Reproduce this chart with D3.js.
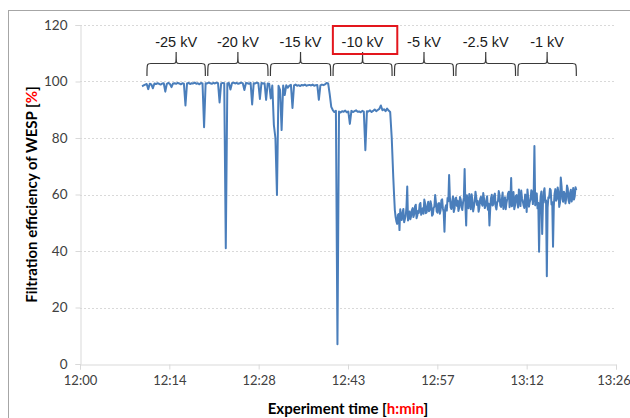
<!DOCTYPE html>
<html><head><meta charset="utf-8">
<script src="https://cdn.jsdelivr.net/npm/d3@7"></script>
<style>
html,body{margin:0;padding:0;background:#fff;}
svg{display:block;}
</style></head>
<body>
<svg id="chart" width="630" height="418"></svg>
<script>
// ---- data ----
// time axis in minutes after 12:00
const xTickValues = [0, 14.4, 28.8, 43.2, 57.6, 72, 86.4];
const xTickLabels = ["12:00", "12:14", "12:28", "12:43", "12:57", "13:12", "13:26"];
const yTickValues = [0, 20, 40, 60, 80, 100, 120];

// high-voltage phases: sampled every 0.25 min from 12:10
const highStart = 10.0;
const highStep = 0.25;
const efficiencyHigh = [
  // -25 kV
  98.3, 98.6, 98.9, 99.1, 97.3, 99.2, 99.0, 97.6, 99.3, 99.1,
  99.4, 99.2, 98.9, 99.3, 99.4, 96.4, 99.2, 99.5, 99.1, 98.0,
  99.3, 99.4, 99.2, 99.5, 99.3, 99.0, 99.4, 99.2, 91.5, 99.3,
  99.5, 99.1, 99.4, 99.3, 99.6, 99.2, 99.4, 99.0, 99.5, 99.3,
  83.8, 99.4, 99.3,
  // -20 kV
  99.6, 99.4, 99.2, 99.5, 99.3, 99.6, 99.4, 92.6, 99.3, 99.5,
  99.4, 41.0, 99.3, 99.5, 97.2, 99.4, 99.6, 99.3, 99.5, 99.2,
  99.4, 99.6, 99.3, 97.0, 99.5, 99.4, 99.2, 99.5, 91.9, 99.4,
  99.3, 99.6, 99.4, 93.8, 99.5, 99.3, 99.4, 93.5, 99.3, 99.2,
  // -15 kV
  94.0, 98.6, 84.6, 80.0, 59.8, 98.5, 97.0, 82.8, 98.6, 95.2,
  98.7, 97.8, 98.5, 98.8, 90.6, 98.6, 98.9, 98.5, 98.7, 98.4,
  98.8, 98.6, 98.9, 98.5, 98.7, 98.8, 98.6, 98.9, 98.5, 98.7,
  98.8, 93.5, 98.6, 98.9, 98.7, 99.0, 99.5, 99.3, 95.5, 91.0,
  // -10 kV
  89.9, 89.2, 89.6, 7.0, 89.4, 89.0, 89.5, 89.3, 89.7, 89.1,
  89.4, 85.0, 89.6, 89.2, 89.5, 89.8, 89.3, 89.4, 89.1, 89.6,
  89.3, 75.7, 89.5, 89.4, 89.8, 89.2, 89.6, 90.1, 89.5, 89.9,
  90.3, 91.5, 89.8, 90.2, 89.5, 90.4, 89.7, 89.2, 80.0, 66.0
];

// low-voltage phases: sampled every 0.125 min from 12:50.6
const lowStart = 50.625;
const lowStep = 0.125;
const efficiencyLow = [
  // -5 kV
  60.0, 54.5, 52.0, 50.5, 49.6, 52.8, 53.1, 47.4, 54.8, 51.5,
  51.0, 53.6, 54.9, 50.2, 51.3, 52.4, 55.6, 62.8, 50.8, 53.0,
  54.0, 51.2, 52.3, 54.5, 55.2, 52.0, 53.0, 55.8, 56.4, 51.6,
  52.6, 54.2, 53.5, 56.5, 57.0, 52.8, 54.0, 55.1, 53.2, 58.2,
  56.9, 53.4, 53.7, 56.0, 57.4, 54.1, 54.6, 57.6, 56.3, 52.5,
  52.9, 55.3, 55.7, 59.8, 57.2, 54.0, 53.6, 56.8, 57.0, 53.2,
  54.4, 57.9, 58.3, 55.0, 53.8, 46.8, 55.1, 56.2, 54.3, 58.8,
  57.6, 66.9, 59.0, 55.4,
  // -2.5 kV
  54.9, 57.5, 59.3, 53.8, 55.0, 58.6, 58.9, 56.0, 57.8, 54.2,
  55.3, 59.1, 58.2, 55.6, 54.5, 57.3, 58.8, 69.0, 56.2, 49.0,
  59.7, 56.4, 55.1, 60.2, 57.9, 54.8, 60.1, 58.0, 54.0, 55.7,
  57.5, 61.0, 59.0, 56.3, 57.7, 53.9, 55.4, 58.4, 59.2, 56.8,
  56.0, 60.5, 58.6, 55.2, 55.9, 57.9, 59.4, 54.6, 56.7, 49.0,
  55.0, 58.7, 59.9, 56.1, 56.4, 59.6, 60.3, 55.8, 54.7, 57.2,
  57.6, 61.2, 59.8, 56.0, 55.6, 58.3, 60.7, 54.9, 56.9, 59.0,
  54.8, 57.1, 58.5, 60.4, 61.0, 55.5, 57.3, 65.8, 55.8, 57.6,
  // -1 kV
  60.9, 54.8, 56.1, 59.5, 59.8, 57.0, 55.4, 61.8, 58.7, 55.9,
  61.4, 58.6, 57.6, 56.2, 55.2, 60.0, 59.6, 53.8, 61.8, 58.9,
  55.7, 57.4, 58.2, 61.5, 60.9, 56.6, 59.3, 77.2, 56.2, 58.0,
  60.4, 55.1, 57.0, 39.7, 54.6, 59.3, 61.1, 46.0, 56.8, 60.8,
  62.2, 57.2, 57.9, 31.1, 55.3, 59.0, 58.8, 62.0, 61.6, 56.5,
  57.3, 41.5, 55.9, 60.2, 61.9, 57.8, 58.5, 62.5, 60.7, 55.6,
  57.1, 66.0, 63.0, 58.4, 57.4, 61.0, 60.3, 56.8, 58.6, 63.2,
  62.1, 58.0, 56.9, 60.6, 61.7, 57.5, 59.0, 62.3, 58.2, 59.4,
  62.6, 61.5
];

// voltage phases (annotation braces)
const phaseLabels = ["-25 kV", "-20 kV", "-15 kV", "-10 kV", "-5 kV", "-2.5 kV", "-1 kV"];
const phaseBounds = [10.6, 20.4, 30.5, 40.6, 50.5, 60.4, 70.4, 80.2];
const highlightedPhase = "-10 kV";

// ---- drawing ----
const svg = d3.select("#chart");
const plot = {left: 80, right: 616, top: 25, bottom: 364};

const x = d3.scaleLinear().domain([0, 86.4]).range([plot.left, plot.right]);
const y = d3.scaleLinear().domain([0, 120]).range([plot.bottom, plot.top]);

// outer frame
svg.append("rect").attr("x", 8.5).attr("y", 10.5).attr("width", 700).attr("height", 500)
  .attr("fill", "none").attr("stroke", "#a6a6a6").attr("stroke-width", 1);

// gridlines
svg.append("g").selectAll("line").data(yTickValues.filter(v => v > 0)).join("line")
  .attr("x1", plot.left).attr("x2", plot.right)
  .attr("y1", d => Math.round(y(d)) + 0.5).attr("y2", d => Math.round(y(d)) + 0.5)
  .attr("stroke", "#d9d9d9").attr("stroke-dasharray", "2,2").attr("stroke-width", 1);

const tickFont = "Lato, 'Open Sans', sans-serif";

// y axis
const yAxis = svg.append("g").attr("transform", `translate(${plot.left + 0.5},0)`)
  .call(d3.axisLeft(y).tickValues(yTickValues).tickSize(5).tickPadding(8).tickFormat(d3.format("d")));
yAxis.select(".domain").attr("stroke", "#d9d9d9");
yAxis.selectAll(".tick line").attr("stroke", "#d9d9d9");
yAxis.selectAll(".tick text").attr("fill", "#404040").style("font-family", tickFont).style("font-size", "13.5px");

// x axis
const xAxis = svg.append("g").attr("transform", `translate(0,${plot.bottom + 0.5})`)
  .call(d3.axisBottom(x).tickValues(xTickValues).tickSize(5).tickPadding(6)
    .tickFormat((d, i) => xTickLabels[i]));
xAxis.select(".domain").attr("stroke", "#d9d9d9");
xAxis.selectAll(".tick line").attr("stroke", "#d9d9d9");
xAxis.selectAll(".tick text").attr("fill", "#404040").style("font-family", tickFont).style("font-size", "13px");
// keep the last label inside the picture
xAxis.selectAll(".tick text").filter((d, i, n) => i === n.length - 1).attr("dx", "-2.5");

// series line
const pts = efficiencyHigh.map((v, i) => [highStart + i * highStep, v])
  .concat(efficiencyLow.map((v, i) => [lowStart + i * lowStep, v]));
const line = d3.line().x(d => x(d[0])).y(d => y(d[1]));
svg.append("path").datum(pts).attr("d", line)
  .attr("fill", "none").attr("stroke", "#4a7ebb").attr("stroke-width", 2)
  .attr("stroke-linejoin", "round");

// braces
const yEnd = 76, yBar = 63.5, yTip = 52;
const braceG = svg.append("g");
phaseLabels.forEach((lab, i) => {
  const a = x(phaseBounds[i]) + 1.2, b = x(phaseBounds[i + 1]) - 1.2, m = (a + b) / 2;
  const p = `M${a},${yEnd} C${a},${yBar} ${a},${yBar} ${a + 4},${yBar} L${m - 3},${yBar} ` +
            `C${m},${yBar} ${m},${yBar} ${m},${yTip} C${m},${yBar} ${m},${yBar} ${m + 3},${yBar} ` +
            `L${b - 4},${yBar} C${b},${yBar} ${b},${yBar} ${b},${yEnd}`;
  braceG.append("path").attr("d", p).attr("fill", "none").attr("stroke", "#3a3a3a").attr("stroke-width", 1.2);
  braceG.append("text").attr("x", m).attr("y", 47).attr("text-anchor", "middle")
    .style("font-family", "'Liberation Sans', Arial, sans-serif").style("font-size", "14.5px")
    .attr("fill", "#1a1a1a").text(lab);
  if (lab === highlightedPhase) {
    braceG.append("rect").attr("x", x(phaseBounds[i]) + 1).attr("y", 26)
      .attr("width", x(phaseBounds[i + 1]) - x(phaseBounds[i]) + 3).attr("height", 28)
      .attr("fill", "none").attr("stroke", "#e3161d").attr("stroke-width", 2);
  }
});

// axis titles
const titleFont = "Lato, 'Open Sans', sans-serif";
const xt = svg.append("text").attr("x", (plot.left + plot.right) / 2).attr("y", 414)
  .attr("text-anchor", "middle").style("font-family", titleFont).style("font-weight", "bold")
  .style("font-size", "15px").attr("fill", "#000");
xt.append("tspan").text("Experiment time [");
xt.append("tspan").attr("fill", "#ff0000").text("h:min");
xt.append("tspan").text("]");

const yt = svg.append("text").attr("transform", `translate(37,${(plot.top + plot.bottom) / 2}) rotate(-90)`)
  .attr("text-anchor", "middle").style("font-family", titleFont).style("font-weight", "bold")
  .style("font-size", "15px").attr("fill", "#000");
yt.append("tspan").text("Filtration efficiency of WESP [");
yt.append("tspan").attr("fill", "#ff0000").text("%");
yt.append("tspan").text("]");
</script>
</body></html>
